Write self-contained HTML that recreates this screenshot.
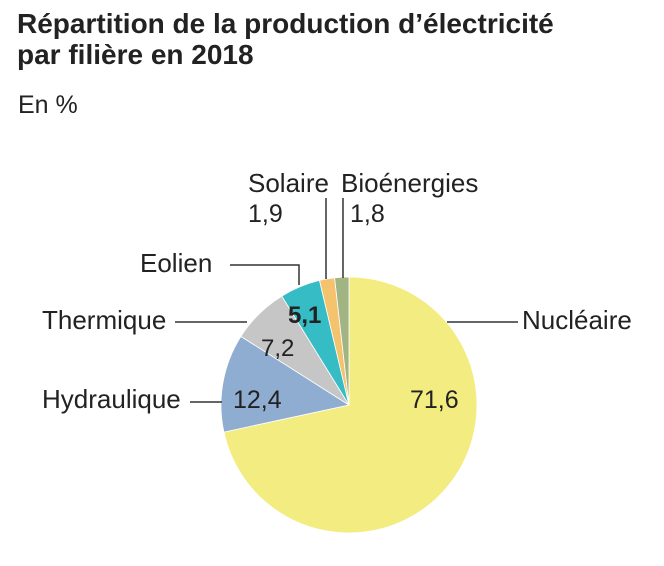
<!DOCTYPE html><html><head><meta charset="utf-8"><style>
body{margin:0;background:#fff;width:664px;height:561px;overflow:hidden;font-family:"Liberation Sans",sans-serif;color:#222}
</style></head><body>
<svg width="664" height="561" xmlns="http://www.w3.org/2000/svg" font-family="Liberation Sans, sans-serif" fill="#222">
<text x="17" y="33" font-size="28" font-weight="bold">Répartition de la production d’électricité</text>
<text x="17" y="64" font-size="28" font-weight="bold">par filière en 2018</text>
<text x="18" y="113" font-size="25">En %</text>
<g stroke="#fff" stroke-width="0.8">
<path d="M349 405 L349 277 A128 128 0 1 1 223.9 432.1 Z" fill="#f3ec81"/>
<path d="M349 405 L223.9 432.1 A128 128 0 0 1 240.9 336.4 Z" fill="#8fadd0"/>
<path d="M349 405 L240.9 336.4 A128 128 0 0 1 281.8 296.1 Z" fill="#c6c6c6"/>
<path d="M349 405 L281.8 296.1 A128 128 0 0 1 319.5 280.4 Z" fill="#36bcc4"/>
<path d="M349 405 L319.5 280.4 A128 128 0 0 1 334.6 277.8 Z" fill="#f5c26e"/>
<path d="M349 405 L334.6 277.8 A128 128 0 0 1 349 277 Z" fill="#a0b484"/>
</g>
<g stroke="#333" stroke-width="1.5" fill="none">
<polyline points="230,265 299,265 299,285"/>
<line x1="326" y1="198" x2="326" y2="279"/>
<line x1="343" y1="198" x2="343" y2="278"/>
<line x1="175" y1="322" x2="247" y2="322"/>
<line x1="190" y1="402" x2="222" y2="402"/>
<line x1="447" y1="322" x2="518" y2="322"/>
</g>
<g font-size="26">
<text x="248" y="192">Solaire</text>
<text x="341" y="192">Bioénergies</text>
<text x="248" y="222" font-size="25">1,9</text>
<text x="350" y="222" font-size="25">1,8</text>
<text x="140" y="272">Eolien</text>
<text x="42" y="329">Thermique</text>
<text x="42" y="408">Hydraulique</text>
<text x="522" y="329">Nucléaire</text>
<text x="288" y="323" font-weight="bold" font-size="24">5,1</text>
<text x="261" y="356" font-size="24">7,2</text>
<text x="233" y="408" font-size="25">12,4</text>
<text x="410" y="408" font-size="25">71,6</text>
</g>
</svg>
</body></html>
